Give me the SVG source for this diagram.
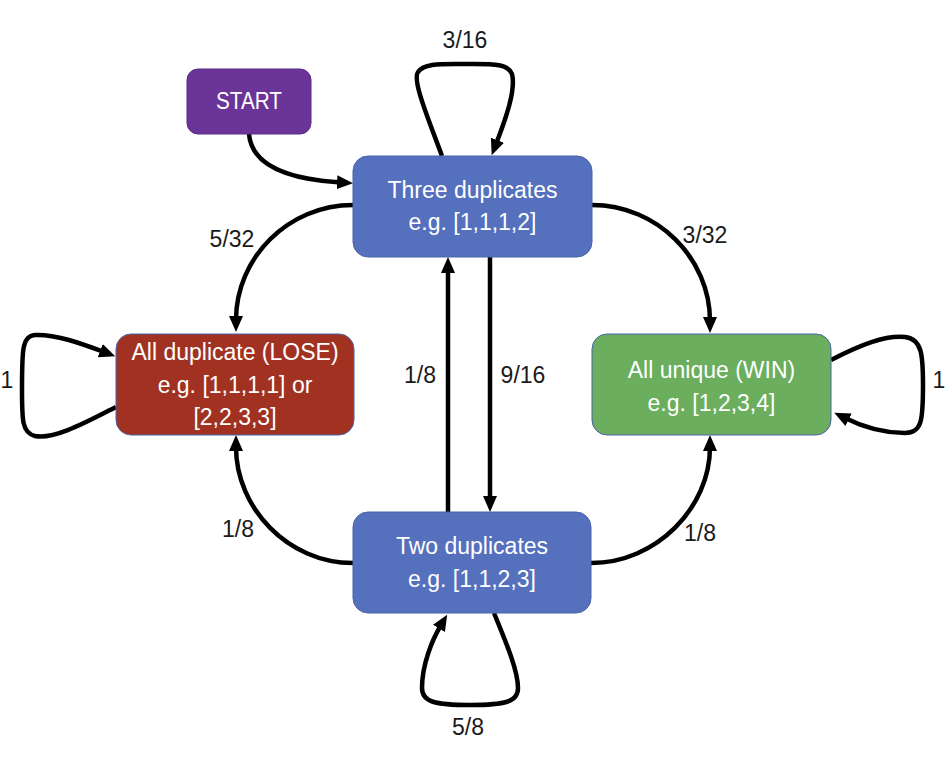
<svg xmlns="http://www.w3.org/2000/svg" width="952" height="758" viewBox="0 0 952 758">
<style>
.node text{font-family:"Liberation Sans",Arial,sans-serif;font-size:23px;fill:#ffffff;text-anchor:middle}
.lbl{font-family:"Liberation Sans",Arial,sans-serif;font-size:23px;fill:#1a1a1a;text-anchor:middle}
.edge{fill:none;stroke:#000;stroke-width:4.5}
</style>
<defs>
<marker id="ah" viewBox="0 0 16 14" refX="4" refY="7" markerWidth="16" markerHeight="14" markerUnits="userSpaceOnUse" orient="auto">
<path d="M0,0 L16,7 L0,14 z" fill="#000"/>
</marker>
</defs>
<rect width="952" height="758" fill="#ffffff"/>
<g id="connectors">
<path class="edge" marker-end="url(#ah)" d="M249,134 C252,170 300,180 341,182.5"/>
<path class="edge" marker-end="url(#ah)" d="M353,205 C288,205 236,258 236,320"/>
<path class="edge" marker-end="url(#ah)" d="M592,205 C657,205 710,258 710,321"/>
<path class="edge" marker-end="url(#ah)" d="M353,563 C288,563 236,508 236,447"/>
<path class="edge" marker-end="url(#ah)" d="M591,563 C656,563 710,508 710,447"/>
<path class="edge" marker-end="url(#ah)" d="M448,512 L448,269"/>
<path class="edge" marker-end="url(#ah)" d="M490,257 L490,500"/>
<path class="edge" marker-end="url(#ah)" d="M442,156 C428,118 412,80 418,72 C424,63 440,64 465,64 C492,64 508,63 512,74 C516,90 506,118 496,144"/>
<path class="edge" marker-end="url(#ah)" d="M116,407 C90,420 55,440 35,436 C22,433 22,420 22,390 C22,350 22,336 35,335 C55,334 80,343 104,352"/>
<path class="edge" marker-end="url(#ah)" d="M831,360 C860,345 885,335 905,337 C922,339 923,355 923,385 C923,420 922,433 905,433 C885,433 865,428 845,418"/>
<path class="edge" marker-end="url(#ah)" d="M494,613 C505,640 518,670 518,688 C518,702 505,705 470,705 C435,705 422,702 422,688 C422,665 432,640 441,625"/>
<text class="lbl" x="465" y="48">3/16</text>
<text class="lbl" x="232" y="247">5/32</text>
<text class="lbl" x="705" y="243">3/32</text>
<text class="lbl" x="420" y="383">1/8</text>
<text class="lbl" x="523" y="383">9/16</text>
<text class="lbl" x="238" y="537">1/8</text>
<text class="lbl" x="700" y="541">1/8</text>
<text class="lbl" x="468" y="735">5/8</text>
<text class="lbl" x="7" y="388">1</text>
<text class="lbl" x="939" y="388">1</text>
</g>
<g id="start" class="node">
<rect x="187" y="69" width="124" height="65" rx="11" fill="#6A3499" stroke="#5A2C85" stroke-width="1"/>
<text x="249" y="109" textLength="66" lengthAdjust="spacingAndGlyphs">START</text>
</g>
<g id="three" class="node">
<rect x="353" y="156" width="239" height="101" rx="15" fill="#5570BD" stroke="#4A63A8" stroke-width="1"/>
<text x="472.5" y="198">Three duplicates</text>
<text x="472.5" y="230">e.g. [1,1,1,2]</text>
</g>
<g id="lose" class="node">
<rect x="116" y="334" width="238" height="101" rx="15" fill="#A13222" stroke="#4A63A8" stroke-width="1"/>
<text x="235" y="360">All duplicate (LOSE)</text>
<text x="235" y="393">e.g. [1,1,1,1] or</text>
<text x="235" y="425">[2,2,3,3]</text>
</g>
<g id="win" class="node">
<rect x="592" y="334" width="239" height="101" rx="15" fill="#6AAE5E" stroke="#4A63A8" stroke-width="1"/>
<text x="711.5" y="378">All unique (WIN)</text>
<text x="711.5" y="411">e.g. [1,2,3,4]</text>
</g>
<g id="two" class="node">
<rect x="353" y="512" width="238" height="101" rx="15" fill="#5570BD" stroke="#4A63A8" stroke-width="1"/>
<text x="472" y="554">Two duplicates</text>
<text x="472" y="587">e.g. [1,1,2,3]</text>
</g>
</svg>
